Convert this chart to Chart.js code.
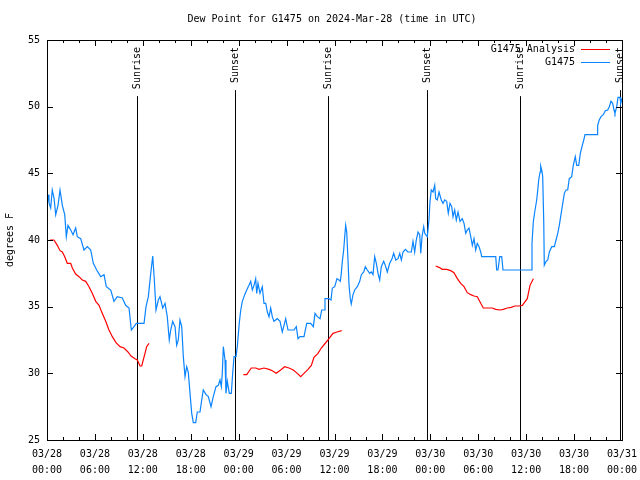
<!DOCTYPE html>
<html>
<head>
<meta charset="utf-8">
<script src="https://cdn.jsdelivr.net/npm/chart.js@4"></script>
<style>
html, body { margin: 0; padding: 0; background: #fff; }
canvas { display: block; }
</style>
</head>
<body>
<canvas id="chart" width="640" height="480"></canvas>
<script>
const titleText = "Dew Point for G1475 on 2024-Mar-28 (time in UTC)";
const dayLabels = ["03/28", "03/29", "03/30", "03/31"];

// G1475 observations, hours since 03/28 00:00 UTC
const obsHours = [0.13, 0.25, 0.46, 0.66, 0.88, 1.09, 1.38, 1.63, 1.92, 2.22, 2.42, 2.63, 2.97, 3.26, 3.59, 3.79,
  4.22, 4.63, 5.05, 5.47, 5.80, 6.22, 6.72, 7.14, 7.43, 7.98, 8.39, 8.80, 9.43, 9.85, 10.27, 10.56, 10.89, 11.18,
  12.15, 12.40, 12.69, 12.99, 13.24, 13.44, 13.65, 13.94, 14.15, 14.49, 14.78, 15.06, 15.31, 15.49, 15.74, 16.03,
  16.24, 16.44, 16.65, 16.87, 17.07, 17.28, 17.49, 17.69, 17.91, 18.12, 18.32, 18.62, 18.82, 19.16, 19.37, 19.57,
  19.91, 20.20, 20.54, 20.82, 21.16, 21.45, 21.66, 21.83, 21.95, 22.08, 22.29, 22.41, 22.58, 22.83, 23.08, 23.25,
  23.42, 23.67, 23.83, 24.08, 24.26, 24.46, 24.76, 25.01, 25.29, 25.51, 25.71, 25.92, 26.13, 26.26, 26.42, 26.67,
  26.96, 27.17, 27.39, 27.59, 27.80, 28.01, 28.21, 28.42, 28.84, 29.18, 29.46, 29.68, 29.89, 30.18, 30.93, 31.22,
  31.43, 31.68, 32.18, 32.52, 33.02, 33.35, 33.56, 33.85, 34.19, 34.40, 34.69, 34.81, 35.31, 35.56, 35.73, 36.03,
  36.31, 36.56, 36.73, 36.85, 36.98, 37.15, 37.28, 37.40, 37.53, 37.69, 37.82, 37.98, 38.10, 38.32, 38.53, 38.86,
  39.16, 39.36, 39.66, 39.86, 40.11, 40.41, 40.61, 40.82, 41.03, 41.24, 41.45, 41.66, 41.86, 42.16, 42.36, 42.61,
  42.91, 43.20, 43.41, 43.67, 43.95, 44.17, 44.37, 44.58, 44.87, 45.20, 45.62, 45.83, 46.04, 46.24, 46.46, 46.67,
  46.80, 46.96, 47.17, 47.30, 47.42, 47.62, 47.83, 47.96, 48.12, 48.34, 48.55, 48.67, 48.87, 49.09, 49.37, 49.59,
  49.80, 50.05, 50.25, 50.46, 50.68, 50.84, 51.05, 51.25, 51.47, 51.72, 52.00, 52.22, 52.43, 52.63, 52.84, 53.06,
  53.26, 53.47, 53.68, 53.88, 54.10, 54.31, 54.43, 56.19, 56.31, 56.47, 56.69, 56.94, 57.10, 60.61, 60.73, 60.90,
  61.11, 61.32, 61.45, 61.57, 61.74, 61.82, 61.95, 62.07, 62.20, 62.27, 62.49, 62.70, 62.90, 63.20, 63.53, 63.74,
  63.95, 64.15, 64.36, 64.58, 64.78, 64.99, 65.20, 65.40, 65.70, 65.90, 66.15, 66.33, 66.58, 66.78, 66.99, 67.21,
  67.37, 68.87, 68.95, 69.15, 69.37, 69.66, 69.91, 70.21, 70.41, 70.62, 70.83, 71.00, 71.12, 71.34, 71.50, 71.75,
  71.84, 72.0];
const obsDewpt = [43.4, 42.8, 42.4, 43.75, 43.15, 41.9, 42.6, 43.75, 42.6, 41.9, 40.25, 41.1, 40.75, 40.4, 40.9, 40.25,
  40.1, 39.25, 39.5, 39.25, 38.25, 37.75, 37.25, 37.4, 36.5, 36.25, 35.4, 35.75, 35.65, 35.1, 34.9, 33.25, 33.5, 33.75,
  33.75, 35.0, 35.75, 37.5, 38.8, 37.0, 34.75, 35.5, 35.75, 34.9, 35.25, 34.25, 32.5, 33.25, 33.9, 33.5,
  32.1, 32.5, 34.0, 33.5, 31.25, 29.75, 30.5, 30.1, 28.5, 27.0, 26.3, 26.3, 27.1, 27.1, 28.0, 28.75,
  28.4, 28.25, 27.5, 28.25, 29.0, 29.1, 29.5, 29.0, 30.0, 32.0, 31.0, 28.5, 29.4, 28.5, 28.5, 30.0,
  31.25, 31.25, 32.0, 33.8, 34.75, 35.4, 35.9, 36.25, 36.6, 36.9, 36.25, 36.6, 37.1, 36.0, 36.75, 36.0,
  36.5, 35.25, 35.25, 34.6, 34.25, 34.9, 34.25, 33.9, 34.1, 33.9, 33.1, 33.6, 34.1, 33.25, 33.25, 33.5,
  32.6, 32.75, 32.75, 33.75, 33.75, 33.5, 34.5, 34.25, 34.1, 34.75, 34.75, 35.6, 35.6, 35.5, 36.4, 36.5,
  37.1, 37.0, 36.9, 37.5, 38.4, 39.25, 40.25, 41.1, 40.6, 38.5, 36.6, 35.6, 35.2, 35.9, 36.25, 36.5,
  36.9, 37.4, 37.6, 38.0, 37.75, 37.5, 37.6, 37.4, 38.75, 38.25, 37.5, 37.0, 38.0, 38.4, 38.1, 37.6,
  38.25, 38.6, 39.0, 38.5, 38.6, 39.0, 38.5, 39.1, 39.3, 39.1, 39.1, 39.9, 39.1, 40.0, 40.6, 40.4,
  39.0, 40.25, 41.0, 40.5, 40.4, 40.25, 41.5, 42.9, 43.75, 43.6, 44.1, 43.1, 43.0, 43.6, 43.0, 42.75,
  43.0, 42.9, 42.0, 42.75, 42.5, 41.75, 42.25, 41.5, 42.1, 41.4, 41.6, 41.25, 40.5, 40.75, 40.9, 40.25,
  39.6, 40.1, 39.25, 39.75, 39.5, 39.1, 38.75, 38.75, 37.75, 37.75, 38.75, 38.75, 37.75, 37.75, 39.75, 41.4,
  42.25, 43.0, 43.75, 44.5, 45.1, 45.55, 45.25, 44.75, 41.4, 38.1, 38.4, 38.5, 39.1, 39.5, 39.5, 40.0,
  40.5, 41.1, 41.9, 42.75, 43.5, 43.75, 43.75, 44.6, 44.75, 45.6, 46.25, 45.6, 45.6, 46.5, 47.0, 47.5,
  47.9, 47.9, 48.6, 49.0, 49.25, 49.4, 49.7, 49.75, 50.0, 50.4, 50.25, 49.75, 49.5, 50.0, 50.7, 50.7,
  50.25, 50.6];

// G1475 Analysis (null = gap)
const anaHours = [0.38, 0.88, 1.29, 1.63, 1.92, 2.22, 2.54, 2.97, 3.17, 3.59, 4.01, 4.42, 4.85, 5.26, 5.67, 6.10,
  6.51, 6.92, 7.35, 7.76, 8.18, 8.64, 9.14, 9.64, 10.14, 10.52, 11.02, 11.31, 11.65, 11.86, 12.27, 12.48, 12.77,
  18.0,
  24.58, 25.01, 25.58, 26.13, 26.55, 27.17, 27.80, 28.21, 28.71, 29.26, 29.76, 30.30, 30.84, 31.34, 31.77, 32.27,
  32.68, 33.10, 33.43, 33.93, 34.35, 34.77, 35.31, 35.81, 36.31, 36.90,
  42.0,
  48.67, 49.09, 49.50, 50.05, 50.55, 50.96, 51.38, 51.80, 52.22, 52.63, 53.06, 53.47, 53.88, 54.31, 54.63, 55.76,
  56.19, 56.73, 57.14, 57.64, 58.14, 58.57, 59.11, 59.52, 60.14, 60.48, 60.90];
const anaDewpt = [40.0, 40.0, 39.6, 39.2, 39.1, 38.75, 38.25, 38.25, 37.9, 37.45, 37.25, 37.0, 36.9, 36.5, 36.0, 35.4,
  35.1, 34.5, 33.9, 33.25, 32.75, 32.3, 32.0, 31.9, 31.6, 31.3, 31.1, 31.0, 30.55, 30.55, 31.5, 32.0, 32.25,
  null,
  29.9, 29.9, 30.4, 30.4, 30.3, 30.4, 30.3, 30.2, 30.0, 30.25, 30.5, 30.4, 30.25, 30.0, 29.75, 30.05,
  30.3, 30.6, 31.2, 31.5, 31.9, 32.2, 32.6, 33.0, 33.1, 33.2,
  null,
  38.05, 37.95, 37.8, 37.8, 37.7, 37.55, 37.1, 36.75, 36.5, 36.05, 35.9, 35.8, 35.75, 35.25, 34.9, 34.9,
  34.8, 34.75, 34.8, 34.9, 34.95, 35.05, 35.05, 35.1, 35.6, 36.6, 37.1];

const eventHours = [11.27, 23.53, 35.17, 47.56, 59.2, 71.7];
const eventNames = ["Sunrise", "Sunset", "Sunrise", "Sunset", "Sunrise", "Sunset"];

const FONT = "'DejaVu Sans Mono', monospace";
Chart.defaults.font.family = FONT;
Chart.defaults.font.size = 10;
Chart.defaults.color = "#000";

function toPoints(xs, ys) {
  return xs.map((x, i) => ({ x: x, y: ys[i] }));
}

// gnuplot-like frame: border, inward ticks, title, sun events, legend
const gnuplotFrame = {
  id: "gnuplotFrame",
  beforeDatasetsDraw(chart) {
    const { ctx, chartArea: a, scales } = chart;
    ctx.save();
    ctx.strokeStyle = "#000";
    ctx.lineWidth = 1;
    ctx.fillStyle = "#000";
    ctx.font = "10px " + FONT;
    eventHours.forEach((h, i) => {
      const px = Math.round(scales.x.getPixelForValue(h)) + 0.5;
      const w = ctx.measureText(eventNames[i]).width;
      ctx.beginPath();
      ctx.moveTo(px, a.top + 7 + w + 7);
      ctx.lineTo(px, a.bottom);
      ctx.stroke();
      ctx.save();
      ctx.translate(px, a.top + 7);
      ctx.rotate(-Math.PI / 2);
      ctx.textAlign = "right";
      ctx.textBaseline = "middle";
      ctx.fillText(eventNames[i], 0, 0);
      ctx.restore();
    });
    ctx.restore();
  },
  afterDatasetsDraw(chart) {
    const { ctx, chartArea: a, scales } = chart;
    ctx.save();
    ctx.strokeStyle = "#000";
    ctx.lineWidth = 1;
    ctx.beginPath();
    for (let h = 0; h <= 72; h += 2) {
      const px = Math.round(scales.x.getPixelForValue(h)) + 0.5;
      const len = h % 6 === 0 ? 6 : 3;
      ctx.moveTo(px, a.bottom); ctx.lineTo(px, a.bottom - len);
      ctx.moveTo(px, a.top); ctx.lineTo(px, a.top + len);
    }
    for (let v = 25; v <= 55; v += 5) {
      const py = Math.round(scales.y.getPixelForValue(v)) + 0.5;
      ctx.moveTo(a.left, py); ctx.lineTo(a.left + 6, py);
      ctx.moveTo(a.right, py); ctx.lineTo(a.right - 6, py);
    }
    ctx.stroke();
    ctx.strokeRect(Math.round(a.left) + 0.5, Math.round(a.top) + 0.5,
      Math.round(a.right - a.left), Math.round(a.bottom - a.top));

    ctx.fillStyle = "#000";
    ctx.font = "10px " + FONT;
    ctx.textAlign = "center";
    ctx.textBaseline = "middle";
    ctx.fillText(titleText, 332, 19);

    // legend: text then line sample
    chart.data.datasets.forEach((ds, i) => {
      const ly = 49 + i * 13;
      ctx.textAlign = "right";
      ctx.fillStyle = "#000";
      ctx.fillText(ds.label, 575, ly);
      ctx.strokeStyle = ds.borderColor;
      ctx.beginPath();
      ctx.moveTo(581, ly + 0.5);
      ctx.lineTo(610, ly + 0.5);
      ctx.stroke();
    });
    ctx.restore();
  }
};

new Chart(document.getElementById("chart"), {
  type: "line",
  data: {
    datasets: [
      {
        label: "G1475 Analysis",
        data: toPoints(anaHours, anaDewpt),
        borderColor: "#ff0000",
        borderWidth: 1.2,
        pointRadius: 0,
        tension: 0,
        spanGaps: false
      },
      {
        label: "G1475",
        data: toPoints(obsHours, obsDewpt),
        borderColor: "#0a84ff",
        borderWidth: 1.2,
        pointRadius: 0,
        tension: 0
      }
    ]
  },
  options: {
    responsive: false,
    animation: false,
    layout: { padding: { top: 40, right: 18, bottom: 0, left: 0 } },
    plugins: {
      legend: { display: false },
      title: { display: false },
      tooltip: { enabled: false }
    },
    scales: {
      x: {
        type: "linear",
        min: 0,
        max: 72,
        grid: { display: false, drawTicks: false },
        border: { display: false },
        afterFit: (s) => { s.height = 40; s.paddingLeft = 0; s.paddingRight = 0; },
        ticks: {
          stepSize: 2,
          autoSkip: false,
          maxRotation: 0,
          padding: 6,
          font: { size: 10, lineHeight: 1.6 },
          callback: (v) => v % 6 === 0
            ? [dayLabels[Math.floor(v / 24)], String(v % 24).padStart(2, "0") + ":00"]
            : ""
        }
      },
      y: {
        min: 25,
        max: 55,
        grid: { display: false, drawTicks: false },
        border: { display: false },
        afterFit: (s) => { s.width = 47; },
        ticks: { stepSize: 5, padding: 7 },
        title: { display: true, text: "degrees F", padding: { top: 4, bottom: 0 } }
      }
    }
  },
  plugins: [gnuplotFrame]
});
</script>
</body>
</html>
